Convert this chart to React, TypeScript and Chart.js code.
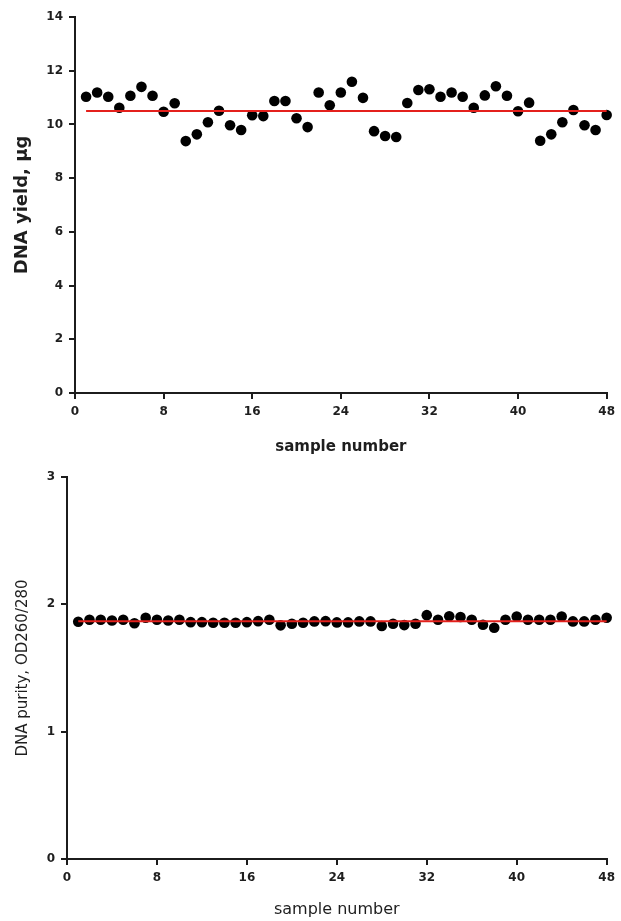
import { useEffect, useRef } from "react";
import { Chart, registerables } from "chart.js";

Chart.register(...registerables);

const sampleNumbers = [
  1, 2, 3, 4, 5, 6, 7, 8, 9, 10, 11, 12, 13, 14, 15, 16, 17, 18, 19, 20, 21, 22, 23, 24,
  25, 26, 27, 28, 29, 30, 31, 32, 33, 34, 35, 36, 37, 38, 39, 40, 41, 42, 43, 44, 45, 46, 47, 48,
];

const yieldValues = [
  11.03, 11.19, 11.03, 10.62, 11.07, 11.4, 11.07, 10.47, 10.79, 9.38, 9.63, 10.08,
  10.51, 9.97, 9.79, 10.34, 10.31, 10.87, 10.87, 10.23, 9.9, 11.19, 10.71, 11.19,
  11.59, 10.99, 9.75, 9.57, 9.53, 10.8, 11.28, 11.31, 11.03, 11.19, 11.03, 10.62,
  11.08, 11.42, 11.07, 10.49, 10.81, 9.39, 9.63, 10.08, 10.54, 9.97, 9.79, 10.35,
];

const purityValues = [
  1.863, 1.879, 1.879, 1.873, 1.879, 1.852, 1.895, 1.879, 1.873, 1.879, 1.86, 1.86,
  1.855, 1.855, 1.855, 1.86, 1.868, 1.879, 1.835, 1.847, 1.855, 1.866, 1.868, 1.858,
  1.858, 1.866, 1.866, 1.83, 1.847, 1.837, 1.847, 1.915, 1.879, 1.907, 1.9, 1.879,
  1.84, 1.816, 1.879, 1.905, 1.879, 1.879, 1.879, 1.905, 1.866, 1.866, 1.879, 1.895,
];

const yieldMean = 10.5;
const purityMean = 1.868;

const xTicks = [0, 8, 16, 24, 32, 40, 48];
const yieldTicks = [0, 2, 4, 6, 8, 10, 12, 14];
const purityTicks = [0, 1, 2, 3];

const FAMILY = "'DejaVu Sans', 'Liberation Sans', Arial, sans-serif";
const AXIS = "#1c1c1c";
const TEXT = "#1e1e1e";

type Cfg = {
  values: number[];
  mean: number;
  yTicks: number[];
  yTitle: string;
  yTitleFont: any;
  xTitleFont: any;
  xTitlePadBottom: number;
  padLeft: number;
  padTop: number;
  yWidth: number;
  xHeight: number;
};

function makeConfig(c: Cfg): any {
  const points = sampleNumbers.map((s, i) => ({ x: s, y: c.values[i] }));
  const meanLine = [
    { x: sampleNumbers[0], y: c.mean },
    { x: sampleNumbers[sampleNumbers.length - 1], y: c.mean },
  ];
  const yMin = c.yTicks[0];
  const yMax = c.yTicks[c.yTicks.length - 1];
  return {
    type: "scatter",
    data: {
      datasets: [
        {
          data: meanLine,
          showLine: true,
          borderColor: "#e4201c",
          borderWidth: 2,
          pointRadius: 0,
          fill: false,
          clip: false,
        },
        {
          data: points,
          pointRadius: 5.3,
          pointBackgroundColor: "#000000",
          pointBorderWidth: 0,
          showLine: false,
          clip: false,
        },
      ],
    },
    options: {
      responsive: false,
      animation: false,
      events: [],
      layout: { padding: { left: c.padLeft, top: c.padTop, right: 9, bottom: 0 } },
      plugins: { legend: { display: false }, tooltip: { enabled: false } },
      scales: {
        x: {
          type: "linear",
          min: xTicks[0],
          max: xTicks[xTicks.length - 1],
          afterBuildTicks: (s: any) => {
            s.ticks = xTicks.map((v) => ({ value: v }));
          },
          afterFit: (s: any) => {
            s.height = c.xHeight;
          },
          grid: {
            display: true,
            drawOnChartArea: false,
            drawTicks: true,
            tickLength: 6,
            color: AXIS,
            lineWidth: 2,
          },
          border: { display: true, color: AXIS, width: 2 },
          ticks: {
            font: { family: FAMILY, size: 12, weight: "bold" },
            color: TEXT,
            padding: 6,
            maxRotation: 0,
            autoSkip: false,
          },
          title: {
            display: true,
            text: "sample number",
            font: c.xTitleFont,
            color: TEXT,
            padding: { top: 0, bottom: c.xTitlePadBottom },
          },
        },
        y: {
          type: "linear",
          min: yMin,
          max: yMax,
          afterBuildTicks: (s: any) => {
            s.ticks = c.yTicks.map((v) => ({ value: v }));
          },
          afterFit: (s: any) => {
            s.width = c.yWidth;
          },
          grid: {
            display: true,
            drawOnChartArea: false,
            drawTicks: true,
            tickLength: 6,
            color: AXIS,
            lineWidth: 2,
          },
          border: { display: true, color: AXIS, width: 2 },
          ticks: {
            font: { family: FAMILY, size: 12, weight: "bold" },
            color: TEXT,
            padding: 6,
            autoSkip: false,
          },
          title: {
            display: true,
            text: c.yTitle,
            font: c.yTitleFont,
            color: TEXT,
            padding: { top: 0, bottom: 0 },
          },
        },
      },
    },
  };
}

function ChartCanvas({ config, width, height, top }: { config: any; width: number; height: number; top: number }) {
  const ref = useRef<HTMLCanvasElement | null>(null);
  useEffect(() => {
    if (!ref.current) return;
    const chart = new Chart(ref.current, config);
    return () => chart.destroy();
  }, [config]);
  return (
    <canvas
      ref={ref}
      width={width}
      height={height}
      style={{ position: "absolute", left: 0, top, width: width + "px", height: height + "px" }}
    />
  );
}

const topConfig = makeConfig({
  values: yieldValues,
  mean: yieldMean,
  yTicks: yieldTicks,
  yTitle: "DNA yield, µg",
  yTitleFont: { family: FAMILY, size: 18, weight: "bold" },
  xTitleFont: { family: FAMILY, size: 15, weight: "bold" },
  xTitlePadBottom: 4,
  padLeft: 12,
  padTop: 17,
  yWidth: 63,
  xHeight: 67,
});

const bottomConfig = makeConfig({
  values: purityValues,
  mean: purityMean,
  yTicks: purityTicks,
  yTitle: "DNA purity, OD260/280",
  yTitleFont: { family: FAMILY, size: 15, weight: "normal" },
  xTitleFont: { family: FAMILY, size: 16, weight: "normal" },
  xTitlePadBottom: 2,
  padLeft: 14,
  padTop: 17,
  yWidth: 53,
  xHeight: 62,
});

export default function App() {
  return (
    <div style={{ position: "absolute", left: 0, top: 0, width: 621, height: 921, background: "#ffffff" }}>
      <ChartCanvas config={topConfig} width={621} height={460} top={0} />
      <ChartCanvas config={bottomConfig} width={621} height={461} top={460} />
    </div>
  );
}
